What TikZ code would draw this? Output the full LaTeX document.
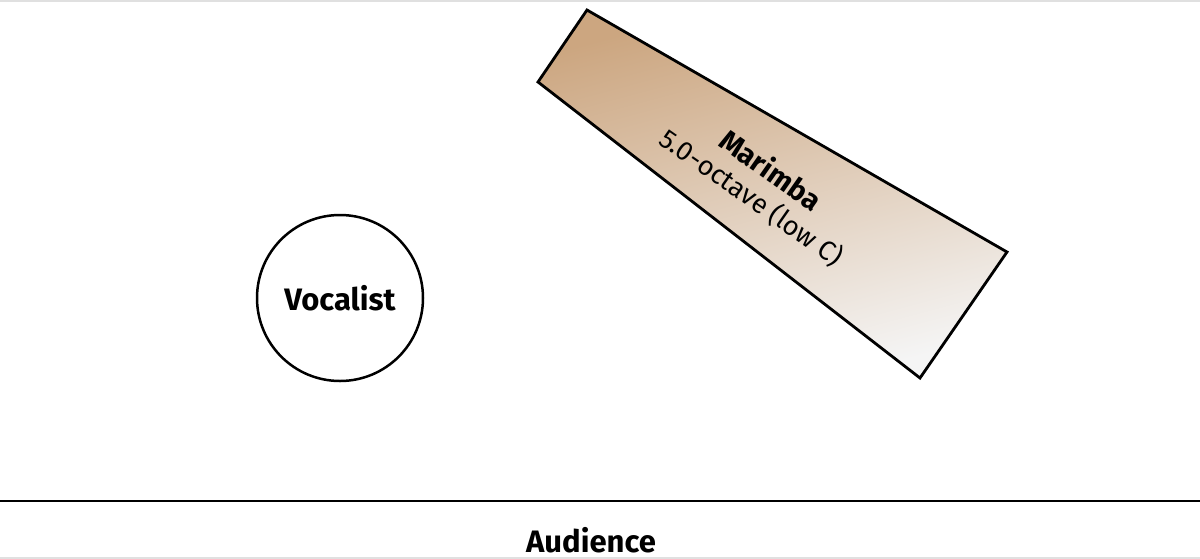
\documentclass[tikz,border=0pt]{standalone}
\usepackage{fontspec}
\setmainfont{Fira Sans}
\usetikzlibrary{positioning, calc}

\definecolor{marimbatan}{RGB}{204,166,128}
\definecolor{framegray}{RGB}{224,224,224}

\begin{document}
\begin{tikzpicture}[
  x=0.5pt, y=-0.5pt,
  every node/.style={font=\bfseries\fontsize{15.5}{19}\selectfont},
  singer/.style={draw=black, line width=1.25pt, circle, minimum size=83pt, inner sep=0pt},
  instr/.style={draw=black, line width=1.4pt, line join=miter,
                top color=marimbatan, bottom color=white!96!black, shading angle=15},
  label/.style={align=center, inner sep=0pt,
                font=\mdseries\fontsize{13.5}{15}\selectfont}
]

% ---- Canvas and frame ----
\useasboundingbox (0,0) rectangle (1200,558);
\draw[framegray, line width=1pt] (0,0.5) -- (1200,0.5);
\draw[framegray, line width=1pt] (0,557.5) -- (1200,557.5);

% ---- Vocalist ----
\node[singer] (voc) at (340,298) {Vocalist};

% ---- Marimba ----
\draw[instr] (587,10) -- (1007,252) -- (920,378) -- (538,82) -- cycle;
\node[label, rotate=-35] (mar) at (761,184)
  {{\bfseries\fontsize{14.5}{15}\selectfont Marimba}\\[1pt]5.0-octave (low C)};

% ---- Stage front and audience ----
\draw[line width=1.25pt] (0,501) -- (1200,501);
\node (aud) at (591,540) {Audience};

\end{tikzpicture}
\end{document}
